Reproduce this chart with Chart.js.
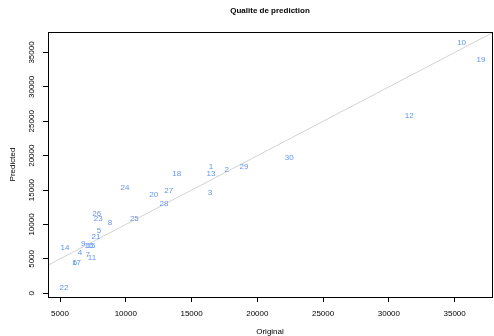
<!DOCTYPE html>
<html>
<head>
<meta charset="utf-8">
<script src="https://cdn.jsdelivr.net/npm/chart.js@4"></script>
<style>
  html, body { margin: 0; padding: 0; background: #fff; }
  canvas { display: block; }
</style>
</head>
<body>
<canvas id="chart" width="494" height="336"></canvas>
<script>
// Beobachtungen (Nummer, Original, Vorhersage)
const ids = ['1','2','3','4','5','6','7','8','9','10','11','12','13','14','15',
             '16','17','18','19','20','21','22','23','24','25','26','27','28','29','30'];
const original = [16480, 17670, 16400, 6520, 7960, 6140, 7100, 8800, 6770, 35530,
                  7430, 31550, 16480, 5380, 7360, 7200, 6250, 13870, 37000, 12120,
                  7740, 5300, 7910, 9940, 10650, 7790, 13260, 12900, 18980, 22430];
const predicted = [18380, 17900, 14610, 5900, 9050, 4400, 5660, 10310, 7260, 36450,
                   5230, 25740, 17420, 6680, 6940, 6910, 4500, 17420, 33880, 14270,
                   8280, 810, 10890, 15390, 10790, 11510, 14900, 13070, 18380, 19690];

// Achsen
const xTicks = [5000, 10000, 15000, 20000, 25000, 30000, 35000];
const yTicks = [0, 5000, 10000, 15000, 20000, 25000, 30000, 35000];
const xRange = [4087, 37840];
const yRange = [-540, 37980];

const FONT = "'Liberation Sans', Arial, sans-serif";

// Rahmen um die Plotfläche
const boxPlugin = {
    id: 'box',
    afterDraw(chart) {
        const a = chart.chartArea;
        const ctx = chart.ctx;
        ctx.save();
        ctx.strokeStyle = '#000';
        ctx.lineWidth = 1;
        ctx.strokeRect(Math.round(a.left) + 0.5, Math.round(a.top) + 0.5,
                       Math.round(a.right - a.left), Math.round(a.bottom - a.top));
        ctx.restore();
    }
};

// Nummern statt Punkte
const labelPlugin = {
    id: 'pointLabels',
    afterDatasetsDraw(chart) {
        const meta = chart.getDatasetMeta(1);
        const ctx = chart.ctx;
        ctx.save();
        ctx.font = '8px ' + FONT;
        ctx.fillStyle = '#6495ED';
        ctx.textAlign = 'center';
        ctx.textBaseline = 'middle';
        meta.data.forEach((pt, i) => {
            ctx.fillText(ids[i], pt.x, pt.y);
        });
        ctx.restore();
    }
};

new Chart(document.getElementById('chart'), {
    type: 'scatter',
    data: {
        datasets: [
            {
                type: 'line',
                data: [{ x: xRange[0], y: xRange[0] }, { x: xRange[1], y: xRange[1] }],
                borderColor: '#d3d3d3',
                borderWidth: 1,
                pointRadius: 0
            },
            {
                data: original.map((x, i) => ({ x: x, y: predicted[i] })),
                pointRadius: 0
            }
        ]
    },
    options: {
        responsive: false,
        animation: false,
        devicePixelRatio: 1,
        layout: { padding: { right: 2 } },
        plugins: {
            legend: { display: false },
            tooltip: { enabled: false },
            title: {
                display: true,
                fullSize: false,
                text: 'Qualite de prediction',
                color: '#000',
                font: { family: FONT, size: 8, weight: 'bold', lineHeight: 1 },
                padding: { top: 7, bottom: 17 }
            }
        },
        scales: {
            x: {
                type: 'linear',
                min: xRange[0],
                max: xRange[1],
                afterFit: s => { s.height = 39; },
                afterBuildTicks: s => { s.ticks = xTicks.map(v => ({ value: v })); },
                grid: { drawOnChartArea: false, drawTicks: true, tickLength: 5, tickColor: '#000' },
                border: { display: true, color: '#000' },
                ticks: {
                    color: '#000',
                    font: { family: FONT, size: 8 },
                    padding: 7,
                    maxRotation: 0,
                    autoSkip: false,
                    callback: v => String(v)
                },
                title: {
                    display: true,
                    text: 'Original',
                    color: '#000',
                    font: { family: FONT, size: 8, lineHeight: 1 },
                    padding: { top: 0, bottom: 0 }
                }
            },
            y: {
                type: 'linear',
                min: yRange[0],
                max: yRange[1],
                afterFit: s => { s.width = 48; },
                afterBuildTicks: s => { s.ticks = yTicks.map(v => ({ value: v })); },
                grid: { drawOnChartArea: false, drawTicks: true, tickLength: 5, tickColor: '#000' },
                border: { display: true, color: '#000' },
                ticks: {
                    color: '#000',
                    font: { family: FONT, size: 8 },
                    padding: 0,
                    minRotation: 90,
                    maxRotation: 90,
                    crossAlign: 'center',
                    autoSkip: false,
                    callback: v => String(v)
                },
                title: {
                    display: true,
                    text: 'Predicted',
                    color: '#000',
                    font: { family: FONT, size: 8, lineHeight: 1 },
                    padding: { top: 9, bottom: 0 }
                }
            }
        }
    },
    plugins: [boxPlugin, labelPlugin]
});
</script>
</body>
</html>
